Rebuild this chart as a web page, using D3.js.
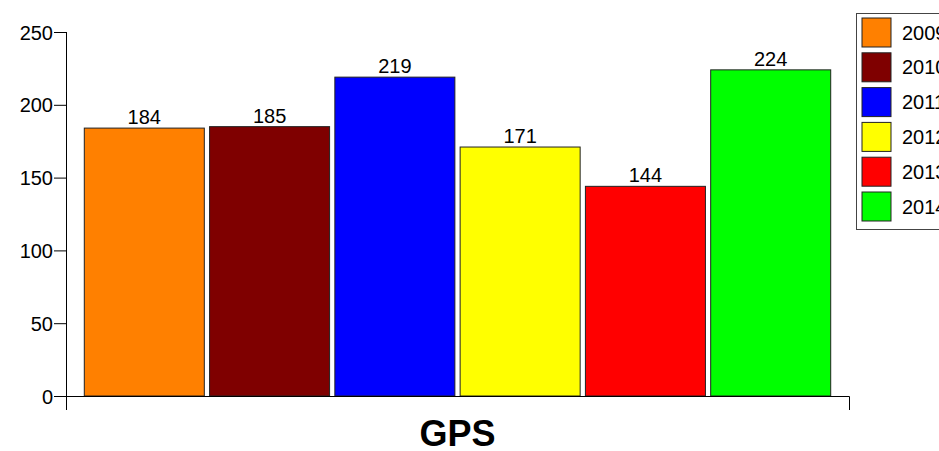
<!DOCTYPE html>
<html><head><meta charset="utf-8">
<script src="https://cdn.jsdelivr.net/npm/d3@7"></script>
<style>body{margin:0;background:#fff}svg{display:block;font-family:"Liberation Sans",Arial,sans-serif}</style>
</head><body><svg id="c" width="939" height="451"></svg>
<script>
const years = ["2009","2010","2011","2012","2013","2014"];
const values = [184,185,219,171,144,224];
const colors = ["#FF8000","#7F0000","#0000FF","#FFFF00","#FF0000","#00FF00"];
const yTicks = [0,50,100,150,200,250];
const category = "GPS";

const svg = d3.select("#c");
const x0 = 66, x1 = 849, yTop = 32, yBot = 396;
const x = d3.scaleBand().domain(years).range([x0, x1]).paddingInner(0.042).paddingOuter(0.146);
const y = d3.scaleLinear().domain([0,250]).range([yBot, yTop]);

// bars
svg.selectAll("rect.bar").data(values).join("rect").attr("class","bar")
  .attr("x",(d,i)=>x(years[i])).attr("width",x.bandwidth())
  .attr("y",d=>y(d)).attr("height",d=>yBot-y(d))
  .attr("fill",(d,i)=>colors[i]).attr("stroke","#222").attr("stroke-width",1);

svg.selectAll("text.val").data(values).join("text").attr("class","val")
  .attr("x",(d,i)=>x(years[i])+x.bandwidth()/2).attr("y",d=>y(d)-4)
  .attr("text-anchor","middle").attr("font-size",20).attr("fill","#000").text(d=>d);

// y axis
const ya = svg.append("g").attr("transform",`translate(${x0},0)`)
  .call(d3.axisLeft(y).tickValues(yTicks).tickSize(12).tickSizeOuter(0).tickPadding(1));
ya.select(".domain").remove();
ya.selectAll("line").attr("stroke","#000");
ya.selectAll("text").attr("font-size",20).attr("font-family","Liberation Sans, Arial, sans-serif").attr("fill","#000").attr("dy","0.35em");
svg.append("line").attr("x1",x0+0.5).attr("x2",x0+0.5).attr("y1",yTop).attr("y2",410).attr("stroke","#000");

// x axis
svg.append("path").attr("d",`M${x0+0.5},410V${yBot+0.5}H${x1+0.5}V410`).attr("fill","none").attr("stroke","#000");
svg.append("text").attr("x",(x0+x1)/2).attr("y",446).attr("text-anchor","middle")
  .attr("font-size",36).attr("font-weight","bold").attr("fill","#000").text(category);

// legend
const lg = svg.append("g");
lg.append("rect").attr("x",856.5).attr("y",13.5).attr("width",100).attr("height",216).attr("fill","#fff").attr("stroke","#444");
years.forEach((yr,i)=>{
  lg.append("rect").attr("x",862).attr("y",18+i*34.8).attr("width",29).attr("height",29)
    .attr("fill",colors[i]).attr("stroke","#222");
  lg.append("text").attr("x",902).attr("y",18+i*34.8+14.5).attr("dy","0.35em")
    .attr("font-size",20).attr("fill","#000").text(yr);
});
</script></body></html>
